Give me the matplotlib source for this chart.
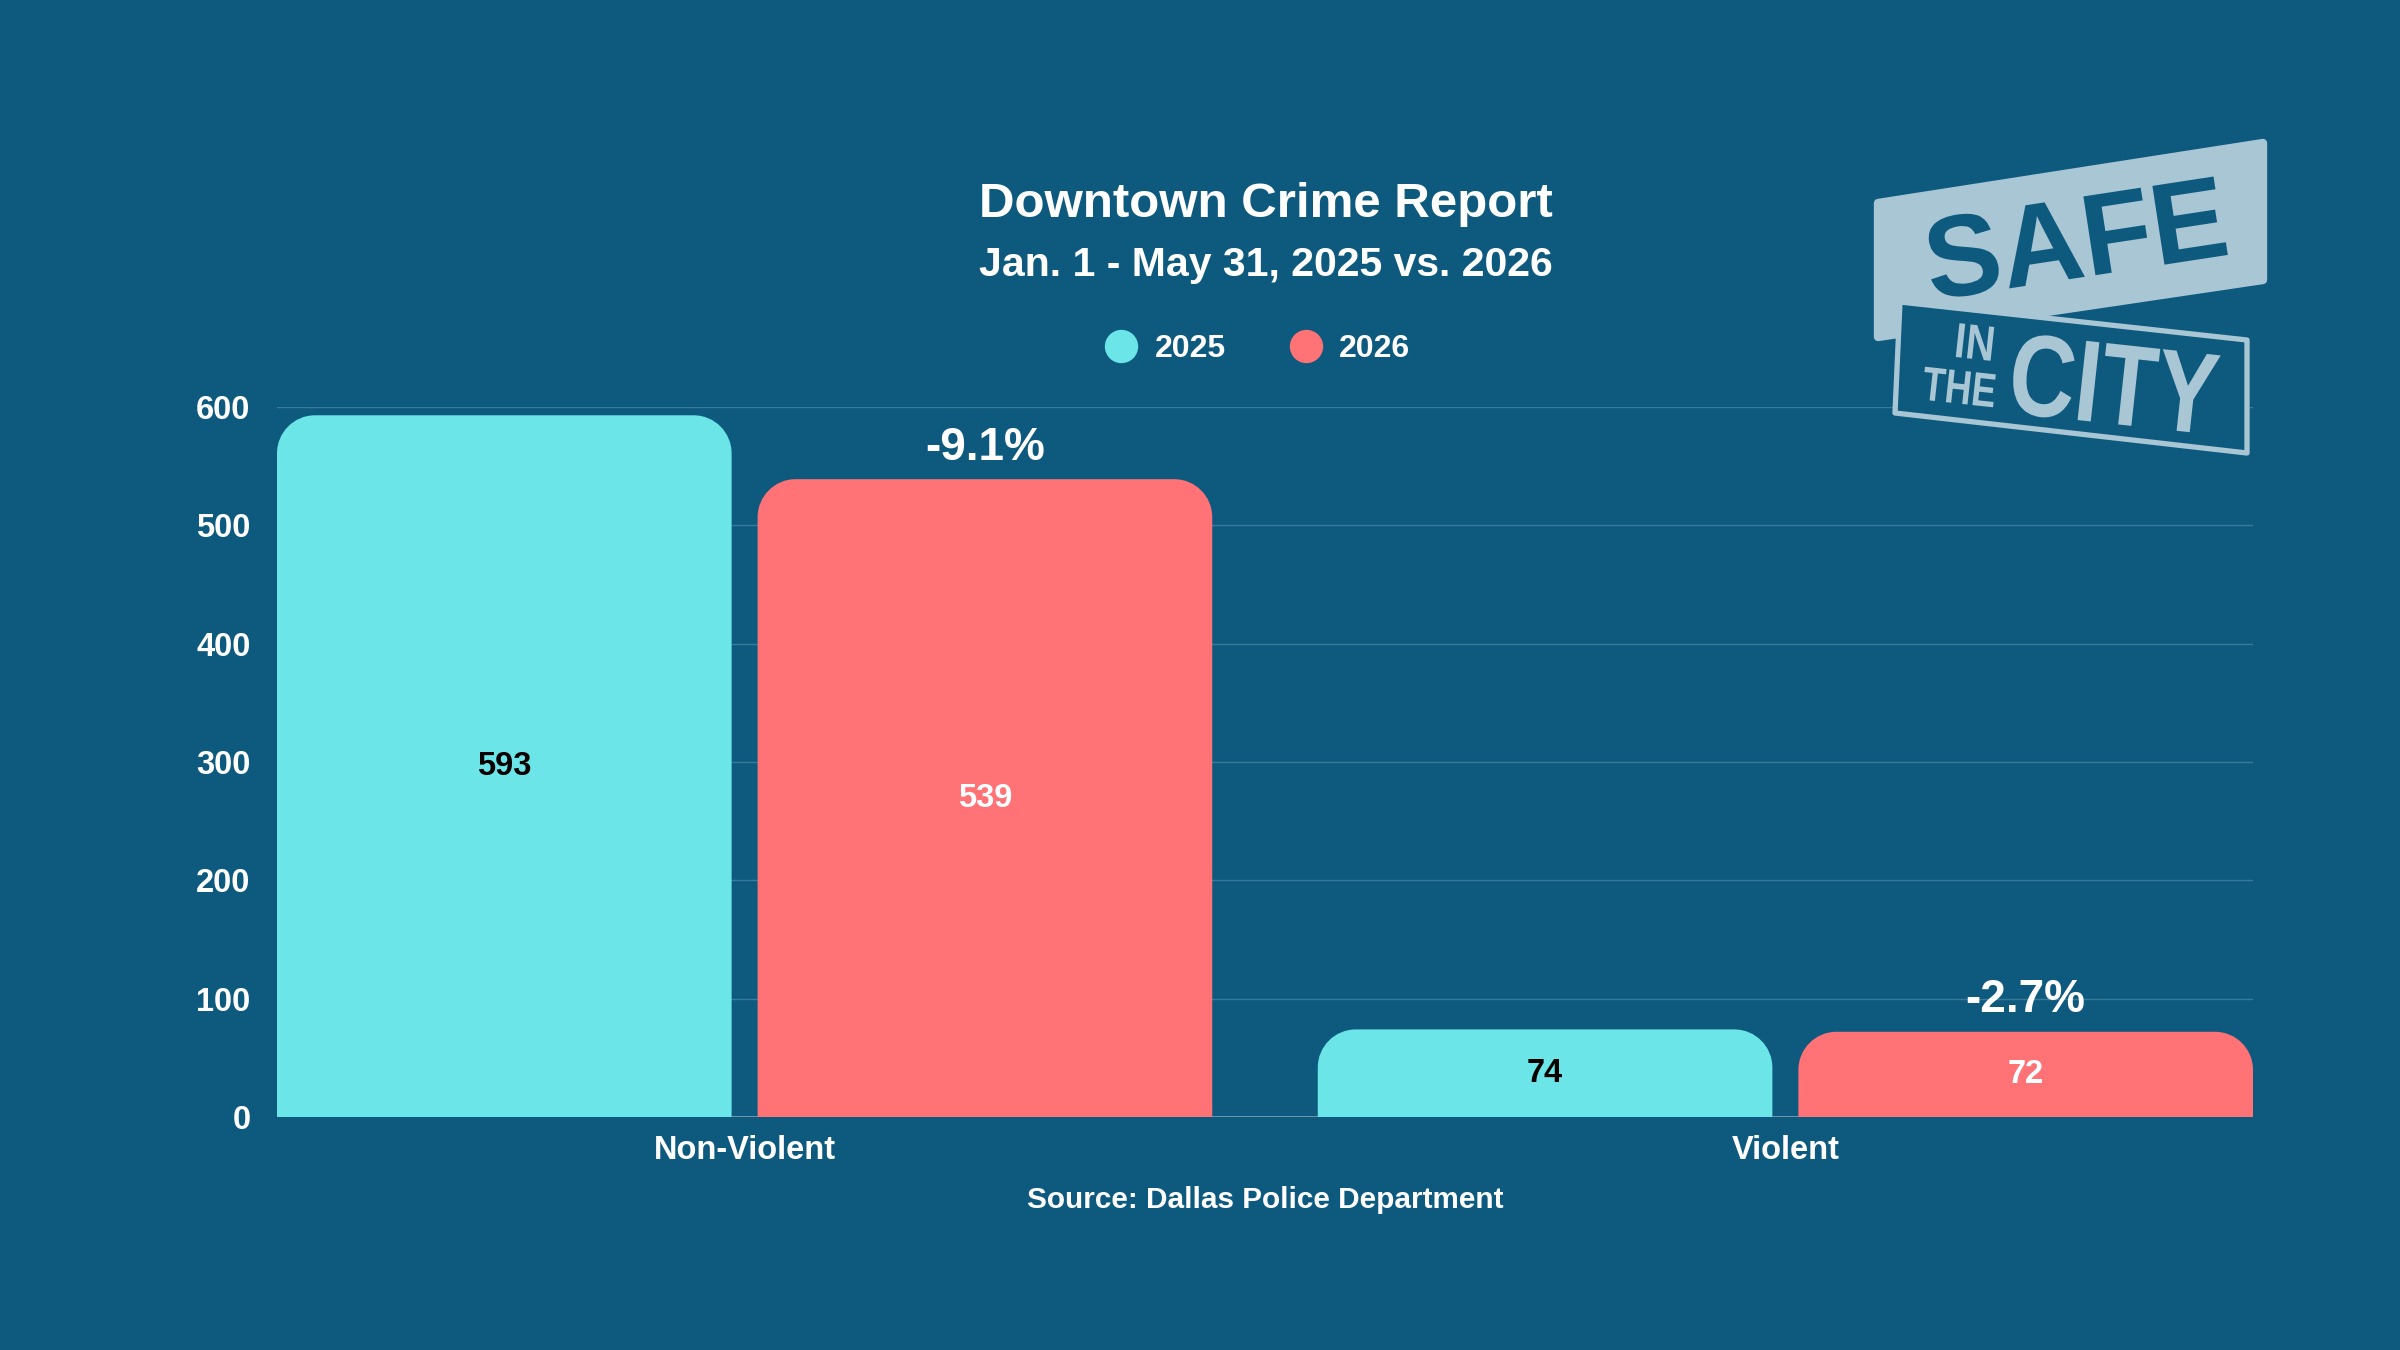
import numpy as np
import matplotlib
matplotlib.use('Agg')
import matplotlib.pyplot as plt
from matplotlib.path import Path
from matplotlib.patches import PathPatch, Polygon
from matplotlib.lines import Line2D
from matplotlib.textpath import TextPath
from matplotlib.font_manager import FontProperties
from matplotlib.transforms import Affine2D

# data
categories = ['Non-Violent', 'Violent']
years = ['2025', '2026']
counts_2025 = [593, 74]
counts_2026 = [539, 72]
pct_change = ['-9.1%', '-2.7%']
yticks = [0, 100, 200, 300, 400, 500, 600]

title = 'Downtown Crime Report'
subtitle = 'Jan. 1 - May 31, 2025 vs. 2026'
source = 'Source: Dallas Police Department'

BG = '#0e5a7e'
CYAN = '#6be5e8'
RED = '#ff7276'
GRID = '#3a7a99'
LOGO = '#a9c6d5'

plt.rcParams['font.family'] = ['Liberation Sans', 'DejaVu Sans']
plt.rcParams['font.weight'] = 'bold'

W, H = 2400, 1350
fig = plt.figure(figsize=(W / 100, H / 100), dpi=100, facecolor=BG)
ax_left, ax_right, ax_top, ax_bot = 277, 2253, 407, 1117
ax = fig.add_axes([ax_left / W, 1 - ax_bot / H, (ax_right - ax_left) / W, (ax_bot - ax_top) / H])
ax.set_facecolor(BG)

xlim = (-0.4493, 1.4493)
ylim = (0, 600)
ax.set_xlim(*xlim)
ax.set_ylim(*ylim)

bar_w = 0.4368
off = 0.2309
radius = 38  # px

# px -> data conversion for rounded corners
rx = radius * (xlim[1] - xlim[0]) / (ax_right - ax_left)
ry = radius * (ylim[1] - ylim[0]) / (ax_bot - ax_top)


def rounded_bar(xc, h, color):
    x0, x1 = xc - bar_w / 2, xc + bar_w / 2
    r_y = min(ry, h)
    k = 0.5523
    verts = [(x0, 0), (x0, h - r_y),
             (x0, h - r_y + k * r_y), (x0 + rx - k * rx, h), (x0 + rx, h),
             (x1 - rx, h),
             (x1 - rx + k * rx, h), (x1, h - r_y + k * r_y), (x1, h - r_y),
             (x1, 0), (x0, 0)]
    codes = [Path.MOVETO, Path.LINETO,
             Path.CURVE4, Path.CURVE4, Path.CURVE4,
             Path.LINETO,
             Path.CURVE4, Path.CURVE4, Path.CURVE4,
             Path.LINETO, Path.CLOSEPOLY]
    ax.add_patch(PathPatch(Path(verts, codes), facecolor=color, edgecolor='none', zorder=3))


x = np.arange(len(categories))
for i in range(len(categories)):
    rounded_bar(x[i] - off, counts_2025[i], CYAN)
    rounded_bar(x[i] + off, counts_2026[i], RED)
    ax.text(x[i] - off, counts_2025[i] / 2, str(counts_2025[i]), ha='center', va='center',
            color='black', fontsize=23.5, zorder=4)
    ax.text(x[i] + off, counts_2026[i] / 2, str(counts_2026[i]), ha='center', va='center',
            color='white', fontsize=23.5, zorder=4)
    ax.annotate(pct_change[i], (x[i] + off, counts_2026[i]), xytext=(0, 14),
                textcoords='offset points', ha='center', va='baseline',
                color='white', fontsize=33, zorder=4)

ax.set_yticks(yticks)
ax.set_xticks(x)
ax.set_xticklabels(categories)
ax.tick_params(axis='both', length=0, colors='white', labelsize=23.5)
ax.tick_params(axis='y', pad=19)
ax.tick_params(axis='x', pad=13)
ax.yaxis.grid(True, color=GRID, linewidth=1)
ax.set_axisbelow(True)
for s in ax.spines.values():
    s.set_visible(False)
ax.axhline(0, color='#7fa0b2', linewidth=1.2, zorder=2)

# titles
fig.text(1266 / W, 1 - 217 / H, title, ha='center', va='baseline', color='white', fontsize=35.5)
fig.text(1266 / W, 1 - 276 / H, subtitle, ha='center', va='baseline', color='white', fontsize=29.5)
fig.text(1265 / W, 1 - 1200 / H, source, ha='center', va='center', color='white', fontsize=21.4)

# legend
handles = [Line2D([], [], linestyle='none', marker='o', markersize=24, markerfacecolor=c,
                  markeredgecolor='none') for c in (CYAN, RED)]
fig.legend(handles, years, loc='center', bbox_to_anchor=(1257 / W, 1 - 349 / H), ncol=2,
           frameon=False, fontsize=23, handlelength=1.1, handletextpad=0.5,
           columnspacing=1.95, labelcolor='white')

# logo overlay in pixel coordinates
lax = fig.add_axes([0, 0, 1, 1])
lax.set_xlim(0, W)
lax.set_ylim(0, H)
lax.axis('off')
lax.patch.set_alpha(0)

fp = FontProperties(family='Liberation Sans', weight='bold')


def img(px, py):
    return (px, H - py)


def logo_text(s, cx, cy, w, h, angle, color):
    tp = TextPath((0, 0), s, size=100, prop=fp)
    bb = tp.get_extents()
    t = (Affine2D().translate(-(bb.x0 + bb.x1) / 2, -(bb.y0 + bb.y1) / 2)
         .scale(w / bb.width, h / bb.height).rotate_deg(angle).translate(cx, H - cy))
    lax.add_patch(PathPatch(t.transform_path(tp), facecolor=color, edgecolor='none'))


top_shape = [img(1878, 203), img(2263, 143), img(2263, 280), img(1878, 337)]
lax.add_patch(Polygon(top_shape, closed=True, facecolor=LOGO, edgecolor=LOGO,
                      linewidth=6, joinstyle='round'))
logo_text('SAFE', 2075, 238, 297, 82, 8.7, BG)

low_box = [img(1900, 302), img(2247, 340), img(2247, 453), img(1895, 413)]
lax.add_patch(Polygon(low_box, closed=True, facecolor=BG, edgecolor=LOGO,
                      linewidth=3.8, joinstyle='round'))
logo_text('CITY', 2115, 384, 204, 82, -6.2, LOGO)
logo_text('IN', 1975, 342, 35, 34, -6.2, LOGO)
logo_text('THE', 1959, 387, 72, 33, -6.2, LOGO)

fig.savefig('out.png', dpi=100, facecolor=BG)
